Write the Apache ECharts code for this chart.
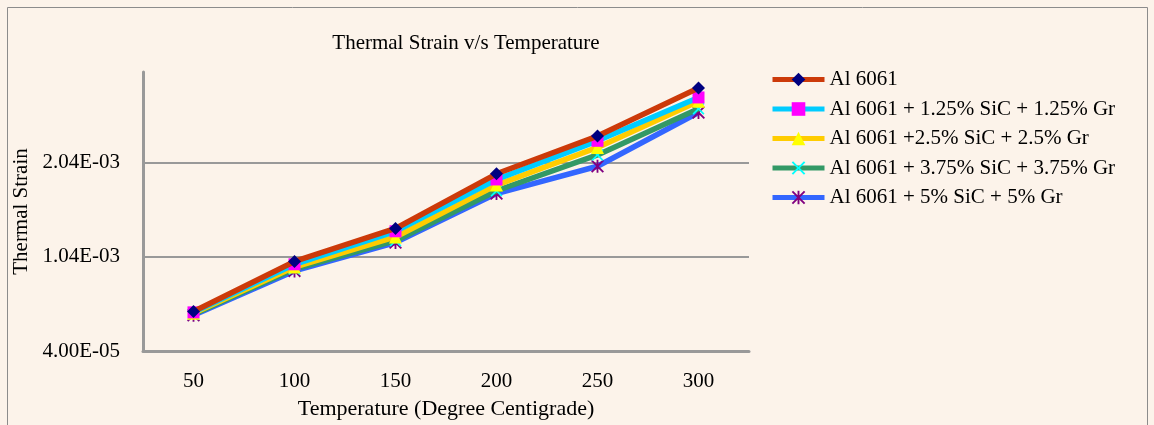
<!DOCTYPE html>
<html>
<head>
<meta charset="utf-8">
<script src="https://cdn.jsdelivr.net/npm/echarts@6/dist/echarts.min.js"></script>
<style>
html,body{margin:0;padding:0;background:#fff;}
#c{width:1154px;height:425px;}
</style>
</head>
<body>
<div id="c"></div>
<script>
var categories = ['50', '100', '150', '200', '250', '300'];
var seriesNames = [
  'Al 6061',
  'Al 6061 + 1.25% SiC + 1.25% Gr',
  'Al 6061 +2.5% SiC + 2.5% Gr',
  'Al 6061 + 3.75% SiC + 3.75% Gr',
  'Al 6061 + 5% SiC + 5% Gr'
];
var al6061 = [0.00046, 0.00099, 0.00134, 0.00192, 0.00232, 0.00283];
var sic125 = [0.00045, 0.00096, 0.00131, 0.00186, 0.00227, 0.00273];
var sic250 = [0.00044, 0.00093, 0.00125, 0.00180, 0.00220, 0.00269];
var sic375 = [0.00043, 0.00091, 0.00121, 0.00174, 0.00212, 0.00261];
var sic500 = [0.00042, 0.00089, 0.00119, 0.00171, 0.00200, 0.00257];
var yTickValues = [0.00004, 0.00104, 0.00204];

var lineColors = ['#CC3A0A', '#00CCFF', '#FFCC00', '#339966', '#3366FF'];
var markerColors = ['#000080', '#FF00FF', '#FFFF00', '#00FFFF', '#800080'];
var xPath = 'path://M0,1 L1,0 L5,4 L9,0 L10,1 L6,5 L10,9 L9,10 L5,6 L1,10 L0,9 L4,5 Z';
var starPath = 'path://M0,1 L1,0 L4.3,3.3 L4.3,0 L5.7,0 L5.7,3.3 L9,0 L10,1 L6,5 L10,9 L9,10 L5.7,6.7 L5.7,10 L4.3,10 L4.3,6.7 L1,10 L0,9 L4,5 Z';
var symbols = ['diamond', 'rect', 'triangle', xPath, starPath];
var symbolSizes = [13, 12, 13, 12, 13];
var dataSets = [al6061, sic125, sic250, sic375, sic500];

function fmtExp(v) {
  var s = v.toExponential(2).toUpperCase();
  var parts = s.split('E');
  var e = parseInt(parts[1], 10);
  var sign = e < 0 ? '-' : '+';
  var a = Math.abs(e);
  return parts[0] + 'E' + sign + (a < 10 ? '0' + a : '' + a);
}

var font = 'Liberation Serif';
var series = seriesNames.map(function (n, i) {
  return {
    name: n,
    type: 'line',
    data: dataSets[i],
    symbol: symbols[i],
    symbolSize: symbolSizes[i],
    showSymbol: true,
    lineStyle: { color: lineColors[i], width: 5.5 },
    itemStyle: { color: markerColors[i], borderWidth: 0 },
    z: 10 - i,
    animation: false
  };
});

var chart = echarts.init(document.getElementById('c'), null, { renderer: 'canvas' });
chart.setOption({
  backgroundColor: '#FCF3EA',
  animation: false,
  graphic: [
    { type: 'rect', shape: { x: 7.5, y: 7.5, width: 1140, height: 430 },
      style: { fill: 'none', stroke: '#8c8c8c', lineWidth: 1 }, silent: true },
    { type: 'text', x: 466, y: 43,
      style: { text: 'Thermal Strain v/s Temperature', font: '21px "Liberation Serif"',
        fill: '#000', textAlign: 'center', textVerticalAlign: 'middle' } }
  ],
  legend: {
    orient: 'vertical',
    left: 765,
    top: 64,
    itemWidth: 52,
    itemHeight: 17,
    itemGap: 8.5,
    lineStyle: { width: 5 },
    textStyle: { fontFamily: font, fontSize: 21, lineHeight: 21, color: '#000' },
    data: seriesNames
  },
  grid: { left: 143, right: 405, top: 72, bottom: 70, containLabel: false },
  xAxis: {
    type: 'category',
    data: categories,
    boundaryGap: true,
    name: 'Temperature (Degree Centigrade)',
    nameLocation: 'middle',
    nameGap: 47,
    nameTextStyle: { fontFamily: font, fontSize: 22, color: '#000' },
    axisLine: { lineStyle: { color: '#999', width: 3 } },
    axisTick: { inside: true, length: 4, lineStyle: { color: '#999', width: 3 } },
    axisLabel: { fontFamily: font, fontSize: 21, color: '#000', margin: 20 },
    splitLine: { show: false }
  },
  yAxis: {
    type: 'value',
    min: 0.00004,
    max: 0.003,
    interval: 0.001,
    name: 'Thermal Strain',
    nameLocation: 'middle',
    nameGap: 103,
    nameRotate: 90,
    nameTextStyle: { fontFamily: font, fontSize: 21, color: '#000' },
    axisLine: { show: true, lineStyle: { color: '#999', width: 3 } },
    axisTick: { show: true, inside: true, length: 4, lineStyle: { color: '#999', width: 2 },
      customValues: yTickValues },
    axisLabel: { fontFamily: font, fontSize: 21, color: '#000', margin: 23,
      customValues: yTickValues, formatter: fmtExp },
    splitLine: { show: true, lineStyle: { color: ['#999', '#999', '#999', 'rgba(0,0,0,0)'], width: 2 } }
  },
  series: series
});
</script>
</body>
</html>
